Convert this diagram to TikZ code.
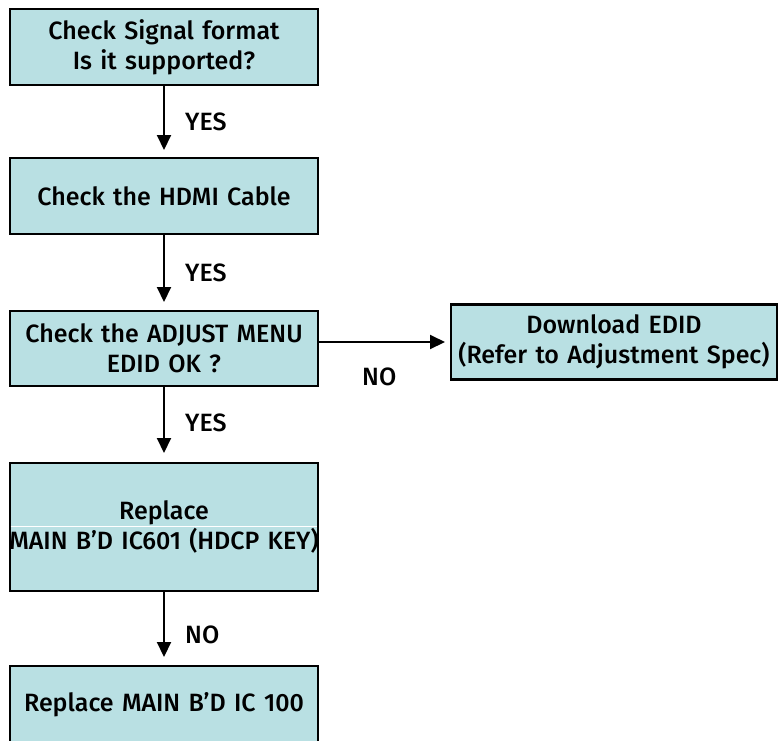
\documentclass[tikz,border=0pt]{standalone}
\usepackage{fontspec}
\setmainfont{Fira Sans}[UprightFont={* Medium}]
\usetikzlibrary{arrows.meta}
\definecolor{boxfill}{HTML}{B9E0E3}
\begin{document}
\begin{tikzpicture}[x=1pt,y=-1pt,
  fbox/.style={draw=black, line width=2.6pt, fill=boxfill, inner sep=0pt,
    minimum width=308pt, text width=300pt, align=center,
    font=\fontsize{25}{30}\selectfont},
  conn/.style={line width=2pt, -{Triangle[width=14pt,length=15pt]}},
  lbl/.style={font=\fontsize{25}{30}\selectfont, inner sep=0pt, anchor=west}]
\useasboundingbox (0,0) rectangle (778,740);
\clip (0,0) rectangle (778,740);
\node[fbox, minimum height=76pt] (b1) at (164,47) {Check Signal format\\Is it supported?};
\node[fbox, minimum height=76pt] (b2) at (164,196) {Check the HDMI Cable};
\node[fbox, minimum height=75pt] (b3) at (164,348.5) {Check the ADJUST MENU\\EDID OK ?};
\node[fbox, minimum width=326pt, text width=320pt, minimum height=75pt] (b4) at (614,342) {Download EDID\\(Refer to Adjustment Spec)};
\node[fbox, minimum height=128pt] (b5) at (164,527) {Replace\\\makebox[0pt]{MAIN B’D IC601 (HDCP KEY)}};
\draw[white, line width=1pt] ([xshift=2pt,yshift=1pt]b5.west) -- ([xshift=-2pt,yshift=1pt]b5.east);
\node[fbox, minimum height=78pt] (b6) at (164,705) {Replace MAIN B’D IC 100};
\coordinate (t1) at (164,150);
\coordinate (t2) at (164,302);
\coordinate (t3) at (164,453);
\coordinate (t4) at (164,657);
\coordinate (t5) at (445,342);
\draw[conn] (b1.south) -- (t1);
\draw[conn] (b2.south) -- (t2);
\draw[conn] (b3.south) -- (t3);
\draw[conn] (b5.south) -- (t4);
\draw[conn] (b3.east |- t5) -- (t5);
\node[lbl] (y1) at (185,122) {YES};
\node[lbl] (y2) at (185,273) {YES};
\node[lbl] (y3) at (185,423) {YES};
\node[lbl] (n1) at (185,635) {NO};
\node[lbl] (n2) at (362,377) {NO};
\end{tikzpicture}
\end{document}
